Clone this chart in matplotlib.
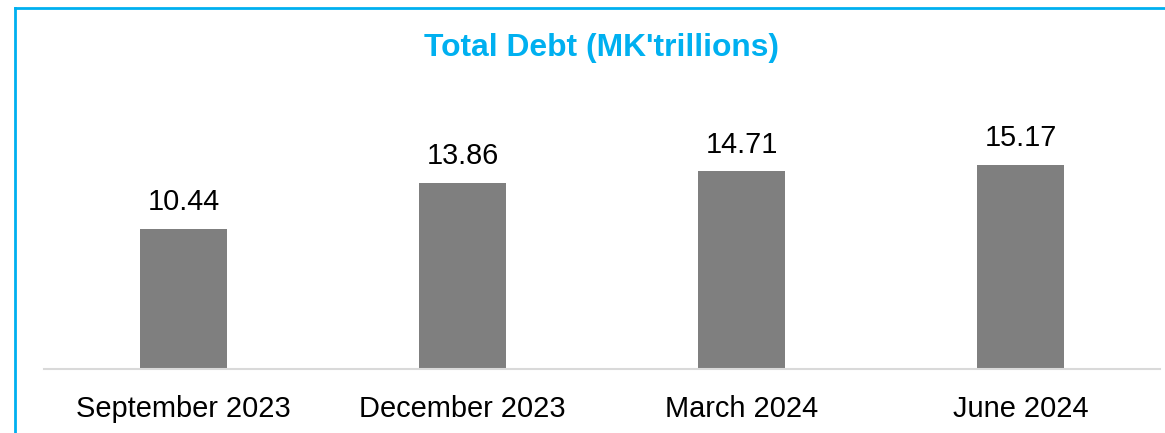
import matplotlib.pyplot as plt
from matplotlib.lines import Line2D

# data
periods = ['September 2023', 'December 2023', 'March 2024', 'June 2024']
total_debt = [10.44, 13.86, 14.71, 15.17]

plt.rcParams['font.family'] = ['Liberation Sans', 'DejaVu Sans']

W, H = 1165, 433
fig = plt.figure(figsize=(W / 100, H / 100), dpi=100)
ax = fig.add_axes([44 / W, (H - 369) / H, 1116 / W, 269 / H])

x = range(len(periods))
bars = ax.bar(x, total_debt, width=0.315, color='#7F7F7F')
for rect, val in zip(bars, total_debt):
    ax.annotate('%.2f' % val, (rect.get_x() + rect.get_width() / 2, val),
                xytext=(0, 9), textcoords='offset points',
                ha='center', va='bottom', fontsize=20.8, color='#000000')

ax.set_xlim(-0.5, len(periods) - 0.5)
ax.set_ylim(0, 20)
ax.set_xticks(list(x))
ax.set_xticklabels(periods, fontsize=20.9)
ax.tick_params(axis='x', length=0, pad=19)
ax.set_yticks([])
for side in ['top', 'right', 'left']:
    ax.spines[side].set_visible(False)
ax.spines['bottom'].set_color('#D9D9D9')
ax.spines['bottom'].set_linewidth(1.5)

fig.text(602 / W, 1 - 48 / H, "Total Debt (MK'trillions)", ha='center', va='center',
         fontsize=22.9, fontweight='bold', color='#00B0F0')

# cyan frame on the left and top edges
fig.add_artist(Line2D([14.5 / W, 14.5 / W], [0, 1 - 7.5 / H], color='#00B0F0', lw=2))
fig.add_artist(Line2D([14.5 / W, 1], [1 - 7.5 / H, 1 - 7.5 / H], color='#00B0F0', lw=2))

fig.savefig('out.png', dpi=100)
